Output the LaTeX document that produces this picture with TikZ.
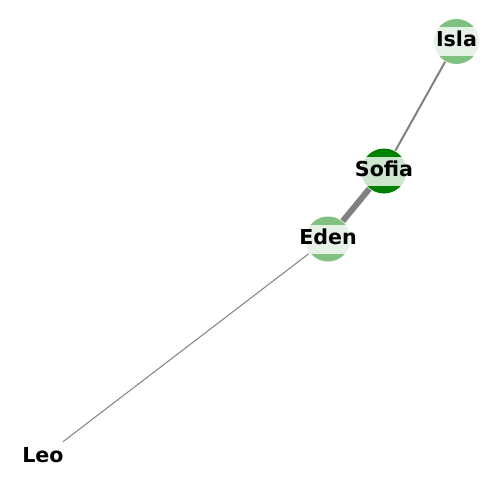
\documentclass[tikz,border=0pt]{standalone}
\usepackage{fontspec}
\setmainfont{DejaVu Sans}
\begin{document}
\begin{tikzpicture}[x=1pt,y=-1pt,
  vert/.style={circle,draw=none,minimum size=45pt,inner sep=0pt},
  lbl/.style={fill=white,fill opacity=0.8,text opacity=1,inner xsep=3pt,inner ysep=4.5pt,
    text height=15pt,text depth=5pt,font=\fontsize{20.6}{24}\selectfont\bfseries},
  edge/.style={draw=gray,shorten <=0.5pt,shorten >=0.5pt}]
\useasboundingbox (0,0) rectangle (500,500);
\node[vert,fill={rgb,255:red,128;green,192;blue,128}] (isla) at (456.5,41.5) {};
\node[vert,fill={rgb,255:red,0;green,128;blue,0}] (sofia) at (384,171) {};
\node[vert,fill={rgb,255:red,128;green,192;blue,128}] (eden) at (328,239) {};
\node[vert,fill=white] (leo) at (43,457) {};
\draw[edge,line width=2pt] (isla) -- (sofia);
\draw[edge,line width=6pt] (sofia) -- (eden);
\draw[edge,line width=1pt,shorten >=2.5pt] (eden) -- (leo);
\node[lbl] (islaT) at (isla) {Isla};
\node[lbl] (sofiaT) at (sofia) {Sofia};
\node[lbl] (edenT) at (eden) {Eden};
\node[lbl] (leoT) at (leo) {Leo};
\end{tikzpicture}
\end{document}
